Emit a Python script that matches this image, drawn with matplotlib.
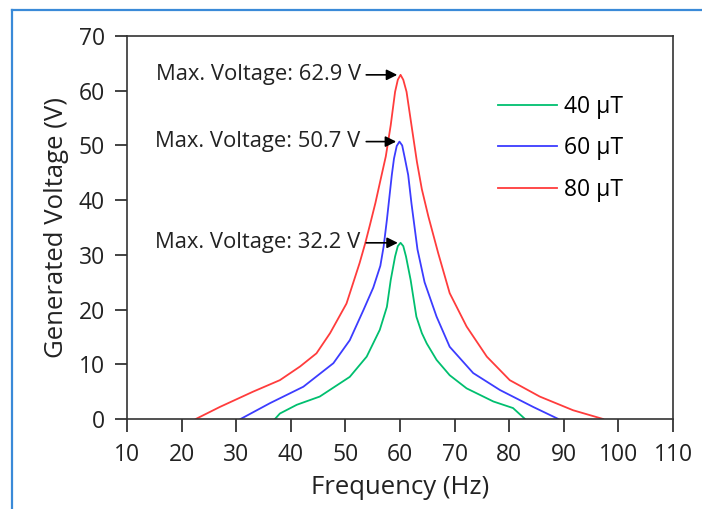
import matplotlib
matplotlib.use("Agg")
import matplotlib.pyplot as plt
from matplotlib.lines import Line2D

plt.rcParams['font.family'] = ['Open Sans', 'DejaVu Sans']

# 40 uT
f40 = [37.1, 38.0, 41.1, 45.3, 50.8, 53.9, 56.3, 57.6, 58.3, 59.1, 59.6, 60.1,
       60.6, 61.1, 61.95, 63.0, 64.0, 64.9, 66.7, 69.1, 72.2, 77.1, 80.7, 82.9]
v40 = [0, 1.0, 2.6, 4.1, 7.7, 11.4, 16.3, 20.5, 25.4, 29.7, 31.6, 32.2,
       31.6, 29.7, 25.4, 18.7, 15.7, 13.8, 10.8, 8.0, 5.6, 3.2, 2.0, 0]
# 60 uT
f60 = [30.8, 36.2, 42.3, 47.8, 50.8, 53.3, 55.1, 56.4, 57.0, 57.6, 58.5, 58.9,
       59.4, 59.9, 60.4, 60.9, 61.5, 62.1, 63.2, 64.5, 66.7, 69.1, 73.4, 78.3,
       84.4, 89.0]
v60 = [0, 2.9, 5.9, 10.2, 14.4, 19.9, 24.0, 28.0, 31.5, 36.4, 44.6, 47.6,
       49.9, 50.7, 50.0, 47.6, 44.6, 39.4, 31.0, 25.0, 18.7, 13.2, 8.4, 5.3,
       2.2, 0]
# 80 uT
f80 = [22.6, 27.0, 33.1, 38.0, 41.7, 44.7, 47.2, 50.2, 52.6, 53.6, 54.5, 55.5,
       56.5, 57.4, 58.3, 59.1, 59.6, 60.1, 60.6, 61.2, 62.1, 63.1, 64.0, 65.2,
       67.0, 69.1, 72.2, 75.9, 80.1, 85.6, 91.7, 97.2]
v80 = [0, 2.2, 5.0, 7.1, 9.6, 12.0, 15.7, 21.1, 28.5, 32.0, 35.5, 39.5,
       44.0, 48.0, 53.7, 59.8, 62.0, 62.9, 62.0, 59.8, 53.7, 47.0, 42.0, 37.0,
       30.3, 23.0, 16.9, 11.4, 7.1, 4.1, 1.6, 0]

peaks = [62.9, 50.7, 32.2]
labels = ['40 \u03bcT', '60 \u03bcT', '80 \u03bcT']

fig = plt.figure(figsize=(7.02, 5.09), dpi=100)
ax = fig.add_axes([127 / 702, 90 / 509, 546 / 702, 383 / 509])

ax.plot(f40, v40, color='#00BF6F', lw=1.3, label=labels[0])
ax.plot(f60, v60, color='#3C3CFF', lw=1.3, label=labels[1])
ax.plot(f80, v80, color='#FF3C3C', lw=1.3, label=labels[2])

for pk, tip in zip(peaks, [59.5, 59.3, 59.6]):
    ax.annotate('Max. Voltage: %.1f V' % pk, xy=(tip, pk), xytext=(52.8, pk),
                ha='right', va='center', fontsize=15.8, color='#222222',
                arrowprops=dict(arrowstyle='-|>', color='black', lw=1.2,
                                mutation_scale=16, shrinkA=2, shrinkB=0))

ax.set_xlim(10, 110)
ax.set_ylim(0, 70)
ax.set_xticks(range(10, 111, 10))
ax.set_yticks(range(0, 71, 10))
ax.tick_params(direction='out', length=9, width=1.2, labelsize=16.5,
               colors='#222222')
ax.tick_params(axis='x', pad=8)
ax.tick_params(axis='y', pad=7)
for s in ax.spines.values():
    s.set_linewidth(1.2)
    s.set_color('#333333')
ax.set_xlabel('Frequency (Hz)', fontsize=18.5, color='#222222', labelpad=6)
ax.set_ylabel('Generated Voltage (V)', fontsize=18.5, color='#222222', labelpad=7)

ax.legend(loc='upper left', bbox_to_anchor=(0.6795, 0.847), frameon=False,
          fontsize=16.5, handlelength=2.58, handletextpad=0.3, labelspacing=0.78,
          borderaxespad=0, borderpad=0)

# blue frame around the figure
fig.add_artist(Line2D([12 / 702, 1], [1 - 10 / 509, 1 - 10 / 509], color='#3A8AD8', lw=1.6))
fig.add_artist(Line2D([12 / 702, 12 / 702], [0, 1 - 10 / 509], color='#3A8AD8', lw=1.6))

fig.savefig('out.png', dpi=100)
